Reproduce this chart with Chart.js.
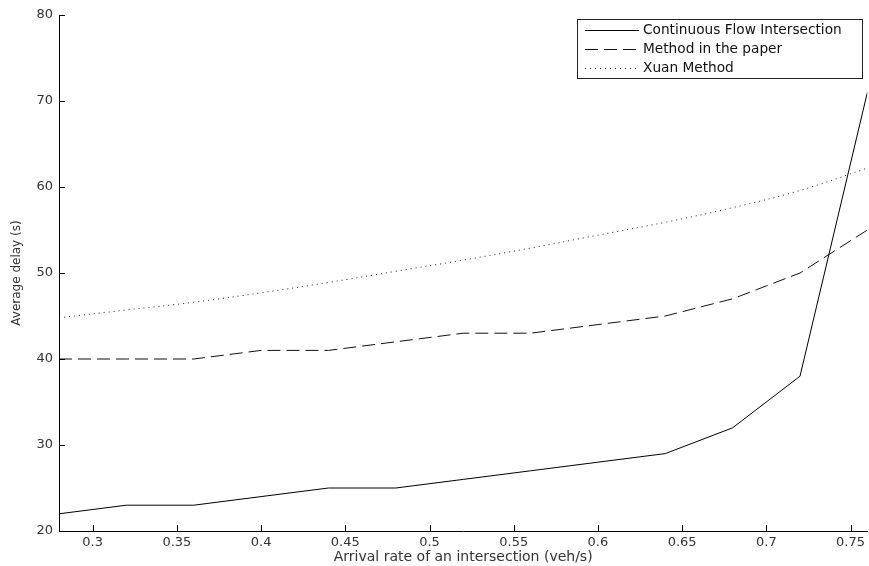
<!DOCTYPE html>
<html>
<head>
<meta charset="utf-8">
<script src="https://cdn.jsdelivr.net/npm/chart.js@4/dist/chart.umd.min.js"></script>
<style>
  html, body { margin: 0; padding: 0; background: #fff; }
  #wrap { width: 869px; height: 566px; }
</style>
</head>
<body>
<div id="wrap"><canvas id="chart" width="869" height="566"></canvas></div>
<script>
// Данные графика
const arrivalRates = [0.28, 0.32, 0.36, 0.40, 0.44, 0.48, 0.52, 0.56, 0.60, 0.64, 0.68, 0.72, 0.76];
const cfiDelay   = [22, 23, 23, 24, 25, 25, 26, 27, 28, 29, 32, 38, 71];
const paperDelay = [40, 40, 40, 41, 41, 42, 43, 43, 44, 45, 47, 50, 55];
const xuanDelay  = [44.8, 45.7, 46.6, 47.7, 48.9, 50.2, 51.5, 52.9, 54.4, 55.9, 57.6, 59.6, 62.2];
const xTicks = [0.3, 0.35, 0.4, 0.45, 0.5, 0.55, 0.6, 0.65, 0.7, 0.75];
const yTicks = [20, 30, 40, 50, 60, 70, 80];
const seriesNames = ['Continuous Flow Intersection', 'Method in the paper', 'Xuan Method'];

const FONT = 'DejaVu Sans, sans-serif';

function toPoints(values) {
    return arrivalRates.map((x, i) => ({ x: x, y: values[i] }));
}

// Внутренние засечки осей и легенда в рамке
const matlabStyle = {
    id: 'matlabStyle',
    afterDraw(chart) {
        const c = chart.ctx;
        const xs = chart.scales.x, ys = chart.scales.y;
        const area = chart.chartArea;
        c.save();
        c.strokeStyle = '#000';
        c.lineWidth = 1;
        c.beginPath();
        xTicks.forEach(v => {
            const px = Math.round(xs.getPixelForValue(v)) + 0.5;
            c.moveTo(px, area.bottom);
            c.lineTo(px, area.bottom - 6);
        });
        yTicks.forEach(v => {
            const py = Math.round(ys.getPixelForValue(v)) + 0.5;
            c.moveTo(area.left, py);
            c.lineTo(area.left + 6, py);
        });
        c.stroke();

        // легенда
        const bx = 577.5, by = 19.5, bw = 285, bh = 59;
        c.fillStyle = '#fff';
        c.fillRect(bx, by, bw, bh);
        c.strokeStyle = '#222';
        c.strokeRect(bx, by, bw, bh);
        c.font = '13.7px ' + FONT;
        c.textBaseline = 'middle';
        chart.data.datasets.forEach((ds, i) => {
            const ly = 30.5 + i * 19;
            c.strokeStyle = ds.borderColor;
            c.lineWidth = 1;
            c.setLineDash(ds.borderDash || []);
            c.beginPath();
            c.moveTo(585, ly);
            c.lineTo(639, ly);
            c.stroke();
            c.setLineDash([]);
            c.fillStyle = '#111';
            c.fillText(ds.label, 643, ly);
        });
        c.restore();
    }
};

const ctx = document.getElementById('chart').getContext('2d');
new Chart(ctx, {
    type: 'line',
    data: {
        datasets: [
            { label: seriesNames[0], data: toPoints(cfiDelay), borderColor: '#000', borderWidth: 1, pointRadius: 0, tension: 0 },
            { label: seriesNames[1], data: toPoints(paperDelay), borderColor: '#111', borderWidth: 1, borderDash: [13, 6], pointRadius: 0, tension: 0 },
            { label: seriesNames[2], data: toPoints(xuanDelay), borderColor: '#222', borderWidth: 1, borderDash: [1, 4], pointRadius: 0, tension: 0.4 }
        ]
    },
    options: {
        responsive: false,
        animation: false,
        layout: { padding: { top: 15, left: 0, right: -3, bottom: 0 }, autoPadding: false },
        plugins: {
            legend: { display: false },
            tooltip: { enabled: false }
        },
        scales: {
            x: {
                type: 'linear',
                min: 0.28,
                max: 0.76,
                afterBuildTicks: s => { s.ticks = xTicks.map(v => ({ value: v })); },
                afterFit: s => { s.height = 35; },
                grid: { display: false, drawTicks: false },
                border: { display: true, color: '#000', width: 1 },
                ticks: {
                    color: '#333',
                    padding: 4,
                    font: { family: FONT, size: 13 },
                    callback: v => String(v),
                    maxRotation: 0
                },
                title: {
                    display: true,
                    text: 'Arrival rate of an intersection (veh/s)',
                    color: '#333',
                    font: { family: FONT, size: 14 },
                    padding: { top: 0, bottom: 0 }
                }
            },
            y: {
                min: 20,
                max: 80,
                afterBuildTicks: s => { s.ticks = yTicks.map(v => ({ value: v })); },
                afterFit: s => { s.width = 59; },
                grid: { display: false, drawTicks: false },
                border: { display: true, color: '#000', width: 1 },
                ticks: {
                    color: '#333',
                    padding: 6,
                    font: { family: FONT, size: 13 }
                },
                title: {
                    display: true,
                    text: 'Average delay (s)',
                    color: '#333',
                    font: { family: FONT, size: 12 },
                    padding: { top: 10, bottom: 0 }
                }
            }
        }
    },
    plugins: [matlabStyle]
});
</script>
</body>
</html>
